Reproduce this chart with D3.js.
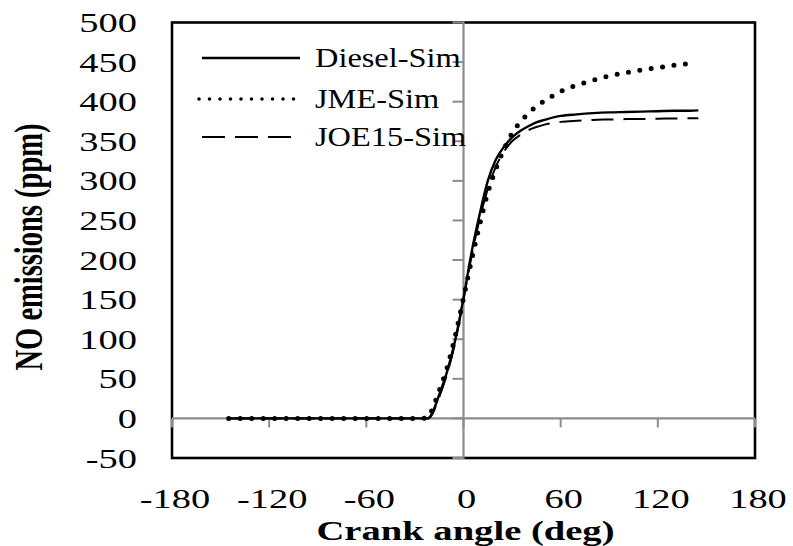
<!DOCTYPE html>
<html>
<head>
<meta charset="utf-8">
<script src="https://cdn.jsdelivr.net/npm/d3@7"></script>
<style>
  body { margin: 0; background: #fff; }
  text { font-family: "Liberation Serif", "Times New Roman", serif; fill: #000; }
</style>
</head>
<body>
<script>
// crank angle (deg) for each sample
var angles = [-145, -120, -90, -60, -40, -30, -25, -22, -20, -15, -10, -5, 0, 5, 10, 15, 20, 25, 30, 35, 40, 45, 50, 60, 70, 80, 90, 100, 110, 120, 130, 140, 145];

// NO emissions (ppm)
var diesel = [0, 0, 0, 0, 0, 0, 0, 0, 4, 30, 60, 100, 152, 210, 258, 300, 327, 343, 355, 363, 369, 374, 377, 382, 384, 385.5, 386.5, 387, 387.5, 388, 388.5, 388.5, 389];
var jme    = [0, 0, 0, 0, 0, 0, 0, 1, 8, 35, 65, 105, 152, 200, 245, 285, 315, 340, 360, 374, 385, 394, 401, 413, 421, 427, 432.5, 436.5, 440, 443, 446, 448, null];
var joe15  = [0, 0, 0, 0, 0, 0, 0, 0, 3, 27, 57, 97, 150, 205, 252, 290, 318, 337, 350, 358, 364, 368, 371, 374.5, 376, 377, 377.5, 378, 378.2, 378.5, 378.8, 379, 379];

var seriesNames = ["Diesel-Sim", "JME-Sim", "JOE15-Sim"];
var xTicks = [-180, -120, -60, 0, 60, 120, 180];
var yTicks = [-50, 0, 50, 100, 150, 200, 250, 300, 350, 400, 450, 500];

var width = 793, height = 546;
var plotLeft = 172, plotRight = 755, plotTop = 22.5, plotBottom = 458;

var svg = d3.select("body").append("svg")
    .attr("width", width).attr("height", height);

var x = d3.scaleLinear().domain([-180, 180]).range([plotLeft, plotRight]);
var y = d3.scaleLinear().domain([-50, 500]).range([plotBottom, plotTop]);

// frame
svg.append("rect")
    .attr("x", plotLeft).attr("y", plotTop)
    .attr("width", plotRight - plotLeft).attr("height", plotBottom - plotTop)
    .attr("fill", "none").attr("stroke", "#000").attr("stroke-width", 2.6);

var grey = "#8c8c8c";

// grey axes through zero
svg.append("line")
    .attr("x1", plotLeft).attr("x2", plotRight)
    .attr("y1", y(0)).attr("y2", y(0))
    .attr("stroke", grey).attr("stroke-width", 2.2);
svg.append("line")
    .attr("x1", x(0)).attr("x2", x(0))
    .attr("y1", plotTop - 1).attr("y2", plotBottom + 1)
    .attr("stroke", grey).attr("stroke-width", 2.2);

svg.selectAll(".ytick").data(yTicks).enter().append("line")
    .attr("x1", x(0) - 11).attr("x2", x(0))
    .attr("y1", function(d) { return y(d); })
    .attr("y2", function(d) { return y(d); })
    .attr("stroke", grey).attr("stroke-width", 2);

svg.selectAll(".xtick").data(xTicks).enter().append("line")
    .attr("x1", function(d) { return x(d); })
    .attr("x2", function(d) { return x(d); })
    .attr("y1", y(0)).attr("y2", y(0) + 9)
    .attr("stroke", grey).attr("stroke-width", 2);

// tick labels (the source text is stretched sideways)
svg.selectAll(".ylab").data(yTicks).enter().append("g")
    .attr("transform", function(d) { return "translate(137," + (y(d) + 9.5) + ") scale(1.45,1)"; })
  .append("text")
    .attr("text-anchor", "end")
    .attr("font-size", 26.5)
    .text(function(d) { return d; });

svg.selectAll(".xlab").data(xTicks).enter().append("g")
    .attr("transform", function(d) { return "translate(" + (x(d) + 3) + ",508) scale(1.45,1)"; })
  .append("text")
    .attr("text-anchor", "middle")
    .attr("font-size", 26.5)
    .text(function(d) { return d; });

// axis titles
svg.append("g")
    .attr("transform", "translate(" + (x(0) + 2) + ",540) scale(1.43,1)")
  .append("text")
    .attr("text-anchor", "middle")
    .attr("font-size", 27)
    .attr("font-weight", "bold")
    .text("Crank angle (deg)");

svg.append("g")
    .attr("transform", "translate(42,247) scale(1.4,1) rotate(-90)")
  .append("text")
    .attr("text-anchor", "middle")
    .attr("font-size", 28.5)
    .attr("font-weight", "bold")
    .text("NO emissions (ppm)");

// curves
function lineFor(values) {
  return d3.line()
      .defined(function(d, i) { return values[i] != null; })
      .x(function(d, i) { return x(angles[i]); })
      .y(function(d, i) { return y(values[i]); })
      .curve(d3.curveMonotoneX)(values);
}

var styles = [
  {dash: null, width: 2.4, cap: "butt"},
  {dash: "0 11.5", width: 5, cap: "round"},
  {dash: "22 10", width: 2, cap: "butt"}
];
var allSeries = [diesel, jme, joe15];

allSeries.forEach(function(values, i) {
  svg.append("path")
      .attr("d", lineFor(values))
      .attr("fill", "none")
      .attr("stroke", "#000")
      .attr("stroke-width", styles[i].width)
      .attr("stroke-dasharray", styles[i].dash)
      .attr("stroke-linecap", styles[i].cap);
});

// legend
var legendY = [58, 99, 137];
var legendDash = [null, "0 10.5", "23 10"];
var legendWidth = [2.4, 3.6, 2];
seriesNames.forEach(function(name, i) {
  svg.append("line")
      .attr("x1", i == 1 ? 199 : 202).attr("x2", 300)
      .attr("y1", legendY[i]).attr("y2", legendY[i])
      .attr("stroke", "#000")
      .attr("stroke-width", legendWidth[i])
      .attr("stroke-dasharray", legendDash[i])
      .attr("stroke-linecap", i == 1 ? "round" : "butt");
  svg.append("g")
      .attr("transform", "translate(315," + (legendY[i] + 9) + ") scale(1.2,1)")
    .append("text")
      .attr("font-size", 27)
      .text(name);
});
</script>
</body>
</html>
